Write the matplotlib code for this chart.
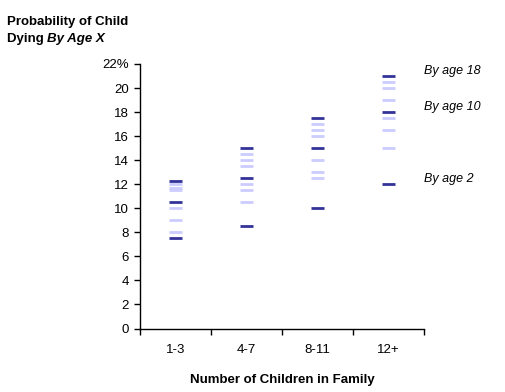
import numpy as np
import matplotlib
matplotlib.use('Agg')
import matplotlib.pyplot as plt

plt.rcParams['font.family'] = ['Liberation Sans', 'DejaVu Sans']

categories = ['1-3', '4-7', '8-11', '12+']
ages = [2, 4, 6, 8, 10, 12, 14, 16, 18]
# probability (%) of a child dying by each age, per family size
prob_1_3 = [7.5, 8, 9, 10, 10.5, 11.5, 11.7, 12, 12.25]
prob_4_7 = [8.5, 10.5, 11.5, 12, 12.5, 13.5, 14, 14.5, 15]
prob_8_11 = [10, 12.5, 13, 14, 15, 16, 16.5, 17, 17.5]
prob_12 = [12, 15, 16.5, 17.5, 18, 19, 20, 20.5, 21]
highlight_ages = [2, 10, 18]

probs = [prob_1_3, prob_4_7, prob_8_11, prob_12]

dark = '#333399'
light = '#CCCCFF'

fig = plt.figure(figsize=(5.05, 3.92), dpi=100)
ax = fig.add_axes([140 / 505, 1 - 328.5 / 392, 284 / 505, 264.5 / 392])

x = np.arange(len(categories))
half = 0.085
for i, vals in enumerate(probs):
    for age, v in zip(ages, vals):
        if age in highlight_ages:
            ax.hlines(v, x[i] - half, x[i] + half, color=dark, lw=2, zorder=3)
        else:
            ax.hlines(v, x[i] - half, x[i] + half, color=light, lw=2, zorder=2)

# labels for highlighted ages, next to the last column
for age in highlight_ages:
    v = probs[-1][ages.index(age)]
    ax.annotate('By age %d' % age, xy=(3.5, v), xytext=(0, 5),
                textcoords='offset pixels', ha='left', va='center',
                fontsize=9, fontstyle='italic')

ax.set_xlim(-0.5, 3.5)
ax.set_ylim(0, 22)
ax.set_yticks(np.arange(0, 23, 2))
ylabels = [str(v) for v in range(0, 22, 2)] + ['22%']
ax.set_yticklabels(ylabels, fontsize=9.5)
ax.set_xticks(x)
ax.set_xticklabels(categories, fontsize=9.5)
ax.set_xticks(np.arange(-0.5, 4, 1), minor=True)
ax.tick_params(axis='x', which='major', length=0, pad=11)
ax.tick_params(axis='x', which='minor', length=4, width=1, direction='out')
ax.tick_params(axis='y', length=4, width=1, direction='out', pad=4)

for s in ['top', 'right']:
    ax.spines[s].set_visible(False)
for s in ['left', 'bottom']:
    ax.spines[s].set_linewidth(1)
    ax.spines[s].set_color('black')

ax.set_xlabel('Number of Children in Family', fontsize=9.5, fontweight='bold', labelpad=13)

fig.text(7 / 505, 1 - 25 / 392, 'Probability of Child', fontsize=9.5,
         fontweight='bold', va='baseline', ha='left')
t2 = fig.text(7 / 505, 1 - 42 / 392, 'Dying ', fontsize=9.5,
              fontweight='bold', va='baseline', ha='left')
ax.annotate('By Age X', xy=(1, 0), xycoords=t2, va='bottom', ha='left',
            fontsize=9.5, fontweight='bold', fontstyle='italic')

fig.savefig('out.png', dpi=100)
